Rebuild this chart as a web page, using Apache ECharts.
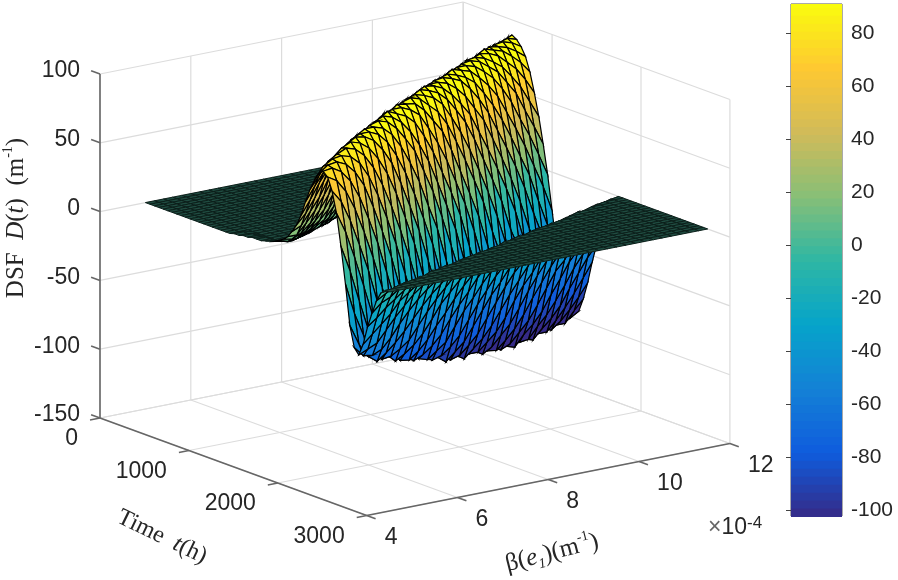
<!DOCTYPE html>
<html>
<head>
<meta charset="utf-8">
<title>DSF surface</title>
<script src="https://cdn.jsdelivr.net/npm/echarts@6/dist/echarts.min.js"></script>
<style>
  html, body { margin: 0; padding: 0; background: #fff; }
  #chart { width: 898px; height: 580px; }
</style>
</head>
<body>
<div id="chart"></div>
<script>
// tick labels
const dsfTicks = [-150, -100, -50, 0, 50, 100]
const timeTicks = [0, 1000, 2000, 3000]
const betaTicks = [4, 6, 8, 10, 12]
const colorTicks = [-100, -80, -60, -40, -20, 0, 20, 40, 60, 80]

// colorbar bands
const barLevels = [-102.2, -99, -96, -93, -90, -87, -84, -81, -78, -75, -72, -69, -66, -63, -60, -57, -54, -51, -48, -45, -42, -39, -36, -33, -30, -27, -24, -21, -18, -15, -12, -9, -6, -3, 0, 3, 6, 9, 12, 15, 18, 21, 24, 27, 30, 33, 36, 39, 42, 45, 48, 51, 54, 57, 60, 63, 66, 69, 72, 75, 78, 81, 84, 87, 90, 91.1]
const parula = ['#352a87', '#0f5cdd', '#1481d6', '#06a4ca', '#2eb7a4', '#87bf77', '#d1bb59', '#fec832', '#f9fb0e']

// surface grid, beta in 1e-4 /m, time in h
const betaValues = [5, 5.2, 5.4, 5.6, 5.8, 6, 6.2, 6.4, 6.6, 6.8, 7, 7.2, 7.4, 7.6, 7.8, 8, 8.2, 8.4, 8.6, 8.8, 9, 9.2, 9.4, 9.6, 9.8, 10, 10.2, 10.4, 10.6, 10.8, 11, 11.2, 11.4, 11.6, 11.8, 12]
const timeValues = [0, 50, 100, 150, 200, 250, 300, 350, 400, 450, 500, 550, 600, 650, 700, 750, 800, 850, 900, 950, 1000, 1050, 1100, 1150, 1200, 1250, 1300, 1350, 1400, 1450, 1500, 1550, 1600, 1650, 1700, 1750, 1800, 1850, 1900, 1950, 2000, 2050, 2100, 2150, 2200, 2250, 2300, 2350, 2400, 2450, 2500, 2550, 2600, 2650, 2700, 2750]

// D(t) is flat at 0 outside a band, bandStart = time index where the band begins for each beta
const bandStart = [20, 20, 26, 26, 25, 24, 24, 23, 22, 21, 21, 20, 19, 18, 18, 17, 16, 16, 15, 14, 13, 13, 12, 11, 10, 10, 9, 8, 8, 7, 6, 5, 5, 4, 3, 2]
const bandD = [
  [1,1,2,2,3,3,3,4,5,6,8,10,13,18,24,32,43,53,61,67,70,67,58,43,20,-6,-35,-50,-54,-45,-31,-20,-10,-3,0],
  [1,1,2,2,2,3,3,3,4,5,6,9,13,21,31,42,53,62,70,72,71,63,49,28,1,-29,-50,-57,-51,-39,-26,-14,-6,-2],
  [0,1,2,4,7,12,20,30,41,53,62,71,74,73,67,54,34,8,-22,-46,-60,-58,-48,-33,-20,-11,-3],
  [0,1,3,6,11,18,28,39,52,62,71,75,75,70,59,40,15,-14,-44,-59,-65,-55,-40,-27,-15,-6,-1],
  [0,1,2,5,10,17,26,38,51,62,71,77,78,73,63,46,22,-5,-37,-58,-66,-60,-48,-32,-19,-10,-3],
  [0,1,2,4,9,15,24,36,49,61,70,77,80,76,67,52,29,2,-29,-52,-65,-65,-54,-39,-25,-14,-5,-1],
  [1,2,4,7,13,22,34,47,59,70,78,81,78,70,56,35,10,-21,-50,-65,-71,-61,-47,-31,-18,-9,-3],
  [0,1,3,6,12,21,32,45,57,69,78,81,80,73,60,41,16,-13,-44,-64,-73,-67,-56,-39,-24,-13,-5],
  [0,1,2,5,11,19,30,43,56,68,77,82,81,76,64,46,23,-4,-36,-60,-73,-74,-62,-47,-31,-18,-8,-2],
  [0,1,2,5,9,17,27,39,55,66,76,82,82,78,68,52,29,3,-29,-55,-70,-77,-69,-55,-38,-24,-13,-5],
  [1,2,4,8,15,25,37,52,65,76,82,84,80,71,57,36,10,-20,-50,-70,-78,-74,-62,-46,-30,-18,-8,-2],
  [0,1,3,7,13,22,35,49,63,74,82,85,82,74,60,41,17,-11,-43,-66,-79,-80,-69,-53,-36,-23,-12,-4],
  [0,1,3,6,12,21,33,46,61,73,83,86,83,76,64,46,23,-3,-35,-60,-76,-83,-75,-62,-45,-29,-16,-7,-1],
  [0,1,2,5,10,18,29,44,58,71,81,85,83,78,67,51,29,4,-28,-57,-75,-83,-81,-70,-52,-36,-22,-11,-3],
  [1,2,4,9,17,27,41,57,70,80,86,85,80,70,57,36,10,-19,-50,-71,-84,-88,-76,-60,-43,-28,-16,-6,-1],
  [0,1,4,7,14,24,37,53,68,78,85,85,82,74,59,41,17,-10,-42,-68,-81,-89,-82,-69,-50,-35,-21,-10,-3],
  [0,1,3,6,12,22,35,51,65,77,85,87,84,77,63,46,25,-1,-35,-62,-79,-88,-87,-76,-59,-42,-26,-15,-5,-1],
  [1,2,5,11,20,33,48,62,76,84,87,85,78,66,50,29,5,-26,-55,-75,-87,-92,-81,-66,-49,-33,-19,-9,-3],
  [1,2,4,9,18,29,44,60,74,84,88,85,79,69,54,34,11,-17,-47,-70,-84,-91,-86,-74,-56,-40,-25,-14,-5],
  [0,1,4,8,15,27,41,58,72,84,88,86,82,73,60,40,18,-8,-39,-66,-83,-91,-91,-80,-64,-46,-31,-19,-8,-2],
  [0,1,3,6,13,24,38,54,69,82,87,87,83,76,63,45,23,0,-33,-60,-80,-91,-95,-85,-72,-54,-38,-24,-12,-4],
  [1,2,5,12,21,35,51,67,79,87,87,84,77,65,49,28,6,-24,-52,-74,-87,-95,-91,-79,-62,-44,-29,-17,-8,-2],
  [1,2,4,10,19,32,47,64,77,86,88,85,78,68,53,34,11,-15,-45,-70,-86,-95,-96,-84,-70,-52,-35,-22,-11,-4],
  [0,1,4,8,16,28,45,61,76,85,88,86,80,70,58,39,18,-7,-39,-65,-83,-94,-98,-90,-77,-59,-43,-28,-17,-7,-1],
  [0,1,3,6,13,26,40,58,73,85,89,86,83,73,61,44,23,1,-30,-58,-78,-90,-98,-95,-83,-67,-49,-34,-21,-11,-4],
  [1,2,5,12,23,37,54,70,83,88,87,83,76,63,47,28,6,-22,-50,-73,-88,-97,-100,-88,-74,-56,-41,-25,-15,-6,-1],
  [0,2,5,10,20,34,51,68,81,88,88,85,78,67,53,33,12,-13,-42,-67,-84,-94,-99,-92,-81,-63,-46,-31,-20,-9,-3],
  [0,1,4,9,17,31,48,67,79,88,89,86,79,69,56,38,18,-5,-35,-62,-80,-91,-99,-98,-86,-71,-53,-37,-24,-14,-5,-1],
  [1,3,7,15,27,43,62,77,86,89,87,81,72,59,42,23,2,-27,-54,-75,-89,-97,-101,-90,-78,-60,-43,-28,-18,-8,-2],
  [1,2,5,13,24,40,59,75,86,89,87,82,75,63,47,28,7,-16,-43,-68,-84,-94,-99,-94,-83,-67,-49,-34,-22,-12,-4],
  [0,2,5,11,22,37,55,72,85,90,88,83,77,66,50,33,13,-11,-39,-64,-81,-91,-98,-99,-88,-74,-57,-42,-26,-17,-7,-2],
  [0,1,4,9,18,32,51,69,83,89,88,85,78,68,55,37,18,-4,-32,-57,-76,-89,-97,-100,-92,-80,-64,-46,-32,-21,-11,-4],
  [1,3,7,15,30,47,66,80,88,88,86,79,70,59,41,23,3,-24,-49,-70,-85,-94,-99,-95,-84,-69,-53,-38,-25,-15,-7,-1],
  [1,2,6,13,26,43,62,78,87,89,86,81,73,61,45,28,7,-17,-42,-65,-81,-90,-97,-99,-88,-75,-59,-44,-30,-19,-10,-3],
  [0,2,5,11,23,39,59,76,86,89,87,82,75,64,49,32,13,-9,-36,-58,-74,-87,-95,-98,-91,-80,-65,-49,-36,-23,-14,-6,-1],
  [0,1,4,9,19,36,55,73,86,89,87,83,77,67,53,37,18,-3,-28,-53,-71,-83,-92,-96,-94,-84,-71,-55,-41,-27,-18,-8,-3]
]

const getD = (k, i) => {
  const v = bandD[k][i - bandStart[k]]
  return v === undefined ? 0 : v
}

// view of the 3D box on the page: origin is beta 4, t 0, D -150
const project = (beta, t, d) => [
  100 + 0.0889 * t + 45.4 * (beta - 4),
  418 + 0.0325 * t - 9 * (beta - 4) - 1.376 * (d + 150)
]

const sansFont = 'Liberation Sans, Arial, sans-serif'
const serifFont = 'Liberation Serif, Times New Roman, serif'
const inkColor = '#262626'
const gridColor = '#dcdcdc'
const axisColor = '#666666'
const colorGain = 1.12 // coarser cells average out the peaks, push the mean back

// surface cells, far ones first so the near ones cover them
const cells = []
for (let i = 0; i < timeValues.length - 1; i++) {
  for (let k = betaValues.length - 2; k >= 0; k--) {
    const corners = [getD(k, i), getD(k + 1, i), getD(k, i + 1), getD(k + 1, i + 1)]
    const mean = (corners[0] + corners[1] + corners[2] + corners[3]) / 4
    const flat = Math.max(...corners.map(Math.abs)) < 7 ? 1 : 0
    cells.push([k, i, mean * colorGain, flat])
  }
}

// box grid lines, axis lines and tick marks
const segments = []
const addSeg = (a, b, kind) => segments.push([a, b, kind])
const [bMin, bMax] = [betaTicks[0], betaTicks[betaTicks.length - 1]]
const [tMin, tMax] = [timeTicks[0], timeTicks[timeTicks.length - 1]]
const [dMin, dMax] = [dsfTicks[0], dsfTicks[dsfTicks.length - 1]]
dsfTicks.forEach(d => {
  addSeg(project(bMin, tMin, d), project(bMax, tMin, d), 'grid')
  addSeg(project(bMax, tMin, d), project(bMax, tMax, d), 'grid')
})
betaTicks.forEach(b => {
  addSeg(project(b, tMin, dMin), project(b, tMin, dMax), 'grid')
  addSeg(project(b, tMin, dMin), project(b, tMax, dMin), 'grid')
})
timeTicks.forEach(t => {
  addSeg(project(bMax, t, dMin), project(bMax, t, dMax), 'grid')
  addSeg(project(bMin, t, dMin), project(bMax, t, dMin), 'grid')
})
addSeg(project(bMin, tMin, dMin), project(bMin, tMin, dMax), 'axis')
addSeg(project(bMin, tMin, dMin), project(bMin, tMax, dMin), 'axis')
addSeg(project(bMin, tMax, dMin), project(bMax, tMax, dMin), 'axis')
dsfTicks.forEach(d => addSeg(project(bMin, tMin, d), project(bMin, tMin - 100, d), 'axis'))
timeTicks.forEach(t => addSeg(project(bMin, t, dMin), project(bMin - 0.22, t, dMin), 'axis'))
betaTicks.forEach(b => addSeg(project(b, tMax, dMin), project(b, tMax + 100, dMin), 'axis'))

// tick labels placed next to their tick
const tickLabels = []
dsfTicks.forEach(d => {
  const p = project(bMin, tMin, d)
  tickLabels.push({ text: String(d), x: p[0] - 20, y: p[1] - 3, align: 'right' })
})
timeTicks.forEach(t => {
  const p = project(bMin, t, dMin)
  tickLabels.push({ text: String(t), x: p[0] - 22, y: p[1] + 21, align: 'right' })
})
betaTicks.forEach(b => {
  const p = project(b, tMax, dMin)
  tickLabels.push({ text: String(b), x: p[0] + 18, y: p[1] + 22, align: 'left' })
})

const titleStyle = (size) => ({
  r: { fontFamily: serifFont, fontSize: size, lineHeight: size + 5, fill: inkColor },
  i: { fontFamily: serifFont, fontSize: size, lineHeight: size + 5, fontStyle: 'italic', fill: inkColor },
  s: { fontFamily: serifFont, fontSize: 14, lineHeight: 16, verticalAlign: 'top', fill: inkColor },
  b: { fontFamily: serifFont, fontSize: 14, lineHeight: 16, verticalAlign: 'bottom', fontStyle: 'italic', fill: inkColor }
})

const option = {
  animation: false,
  backgroundColor: '#fff',
  tooltip: { show: false },
  grid: [
    { left: 0, top: 0, width: 898, height: 580 },
    { left: 791, top: 4, width: 51, height: 512, show: true, borderColor: '#555', borderWidth: 1, backgroundColor: 'transparent' }
  ],
  xAxis: [
    { type: 'value', min: 0, max: 898, show: false, gridIndex: 0 },
    { type: 'value', min: 0, max: 1, show: false, gridIndex: 1 }
  ],
  yAxis: [
    { type: 'value', min: 0, max: 580, inverse: true, show: false, gridIndex: 0 },
    {
      type: 'value',
      gridIndex: 1,
      min: -102.2,
      max: 91.1,
      position: 'right',
      splitLine: { show: false },
      axisLine: { show: false },
      axisTick: { show: true, inside: true, length: 5, customValues: colorTicks, lineStyle: { color: '#444' } },
      axisLabel: { customValues: colorTicks, fontFamily: sansFont, fontSize: 21, color: inkColor, margin: 9 }
    }
  ],
  visualMap: {
    show: false,
    type: 'continuous',
    dimension: 2,
    seriesIndex: [2, 3],
    min: -102.2,
    max: 91.1,
    inRange: { color: parula }
  },
  graphic: [
    {
      type: 'text', x: 16, y: 218, rotation: Math.PI / 2,
      style: { text: '{r|DSF  }{i|D}{r|(}{i|t}{r|)  (m}{s|-1}{r|)}', rich: titleStyle(25), align: 'center', verticalAlign: 'middle' }
    },
    {
      type: 'text', x: 162, y: 537, rotation: -0.45,
      style: { text: '{r|Time  }{i|t}{r|(h)}', rich: titleStyle(24), align: 'center', verticalAlign: 'middle' }
    },
    {
      type: 'text', x: 552, y: 553, rotation: 0.25,
      style: { text: '{r|β(}{i|e}{b|1}{r|)(m}{s|-1}{r|)}', rich: titleStyle(25), align: 'center', verticalAlign: 'middle' }
    },
    {
      type: 'text', x: 708, y: 528,
      style: {
        text: '{x|×}{n|10}{e|-4}',
        rich: {
          x: { fontFamily: sansFont, fontSize: 23, lineHeight: 26, fill: '#666' },
          n: { fontFamily: sansFont, fontSize: 23, lineHeight: 26, fill: inkColor },
          e: { fontFamily: sansFont, fontSize: 17, lineHeight: 16, verticalAlign: 'top', fill: inkColor }
        },
        verticalAlign: 'middle'
      }
    }
  ],
  series: [
    {
      name: 'box',
      type: 'custom',
      coordinateSystem: 'cartesian2d',
      silent: true,
      clip: false,
      data: segments.map((s, idx) => [idx, 0]),
      renderItem: (params, api) => {
        const s = segments[api.value(0)]
        const a = api.coord(s[0])
        const b = api.coord(s[1])
        return {
          type: 'line',
          shape: { x1: a[0], y1: a[1], x2: b[0], y2: b[1] },
          style: { stroke: s[2] === 'axis' ? axisColor : gridColor, lineWidth: s[2] === 'axis' ? 1.6 : 1.2 }
        }
      }
    },
    {
      name: 'tickLabels',
      type: 'custom',
      coordinateSystem: 'cartesian2d',
      silent: true,
      clip: false,
      data: tickLabels.map((s, idx) => [idx, 0]),
      renderItem: (params, api) => {
        const l = tickLabels[api.value(0)]
        const p = api.coord([l.x, l.y])
        return {
          type: 'text',
          x: p[0],
          y: p[1],
          style: { text: l.text, fontFamily: sansFont, fontSize: 23, fill: inkColor, align: l.align, verticalAlign: 'middle' }
        }
      }
    },
    {
      name: 'surface',
      type: 'custom',
      coordinateSystem: 'cartesian2d',
      silent: true,
      clip: false,
      progressive: 0,
      data: cells,
      renderItem: (params, api) => {
        const k = api.value(0)
        const i = api.value(1)
        const flat = api.value(3) === 1
        const corner = (kk, ii) => api.coord(project(betaValues[kk], timeValues[ii], getD(kk, ii)))
        return {
          type: 'polygon',
          shape: { points: [corner(k, i), corner(k + 1, i), corner(k + 1, i + 1), corner(k, i + 1)] },
          style: {
            fill: flat ? '#1f4b40' : api.visual('color'),
            stroke: flat ? '#0b1f1a' : '#000',
            lineWidth: flat ? 1 : 1.2
          }
        }
      }
    },
    {
      name: 'colorbar',
      type: 'custom',
      coordinateSystem: 'cartesian2d',
      xAxisIndex: 1,
      yAxisIndex: 1,
      silent: true,
      progressive: 0,
      z: 1,
      data: barLevels.slice(0, -1).map((v, idx) => [idx, 0, v + 1.5]),
      renderItem: (params, api) => {
        const idx = api.value(0)
        const a = api.coord([0, barLevels[idx]])
        const b = api.coord([1, barLevels[idx + 1]])
        return {
          type: 'rect',
          shape: { x: a[0], y: b[1], width: b[0] - a[0], height: a[1] - b[1] + 1 },
          style: { fill: api.visual('color') }
        }
      }
    }
  ]
}

const chart = echarts.init(document.getElementById('chart'), null, { renderer: 'canvas' })
chart.setOption(option)
</script>
</body>
</html>
